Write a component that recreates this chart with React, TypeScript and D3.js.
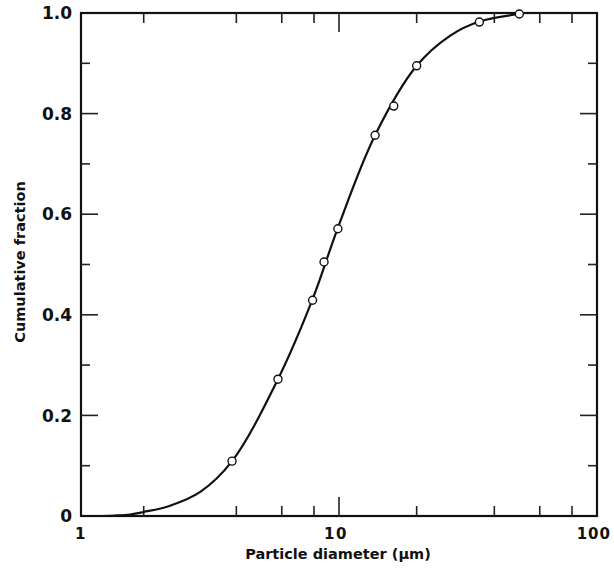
import React from "react";
import * as d3 from "d3";

const pointDiameters = [3.85, 5.8, 7.9, 8.75, 9.9, 13.8, 16.3, 20, 35, 50];
const pointFractions = [0.109, 0.272, 0.429, 0.505, 0.571, 0.757, 0.815, 0.895, 0.982, 0.998];
const curveDiameters = [1.15, 1.35, 1.55, 1.75, 2.2, 2.9, 3.85, 5.8, 7.9, 9.9, 13.8, 20, 27, 35, 50];
const curveFractions = [0, 0.001, 0.003, 0.008, 0.02, 0.048, 0.109, 0.272, 0.431, 0.573, 0.757, 0.895, 0.955, 0.983, 0.998];
const xMajorTicks = [1, 10, 100];
const xMinorTicks = [1.75, 4, 6, 8, 20, 40, 60, 80];
const yMajorTicks = [0, 0.2, 0.4, 0.6, 0.8, 1.0];
const yMinorTicks = [0.1, 0.3, 0.5, 0.7, 0.9];
const yTickLabels = ["0", "0.2", "0.4", "0.6", "0.8", "1.0"];

export default function App() {
  const W = 614, H = 571;
  const L = 81, R = 597, T = 13, B = 516;
  const x = d3.scaleLog().domain([1, 100]).range([L, R]);
  const y = d3.scaleLinear().domain([0, 1]).range([B, T]);
  const curvePts: [number, number][] = curveDiameters.map((d, i) => [d, curveFractions[i]]);
  const line = d3.line<[number, number]>().x(d => x(d[0])).y(d => y(d[1])).curve(d3.curveCatmullRom.alpha(0.5));
  const font = "'DejaVu Sans', Verdana, sans-serif";
  return (
    <svg width={W} height={H} style={{ position: "absolute", left: 0, top: 0, background: "#fff" }}>
      <rect x={0} y={0} width={W} height={H} fill="#fff" />
      {/* frame */}
      <rect x={L} y={T} width={R - L} height={B - T} fill="none" stroke="#111" strokeWidth={2.2} />
      {/* y ticks */}
      {yMajorTicks.slice(1, -1).map(v => (
        <g key={"ym" + v}>
          <line x1={L} x2={L + 17} y1={y(v)} y2={y(v)} stroke="#222" strokeWidth={1.6} />
          <line x1={R - 17} x2={R} y1={y(v)} y2={y(v)} stroke="#222" strokeWidth={1.6} />
        </g>
      ))}
      {yMinorTicks.map(v => (
        <g key={"yn" + v}>
          <line x1={L} x2={L + 9} y1={y(v)} y2={y(v)} stroke="#222" strokeWidth={1.6} />
          <line x1={R - 9} x2={R} y1={y(v)} y2={y(v)} stroke="#222" strokeWidth={1.6} />
        </g>
      ))}
      {/* x ticks */}
      {xMajorTicks.slice(1, -1).map(v => (
        <g key={"xm" + v}>
          <line x1={x(v)} x2={x(v)} y1={B} y2={B - 19} stroke="#222" strokeWidth={1.6} />
          <line x1={x(v)} x2={x(v)} y1={T} y2={T + 19} stroke="#222" strokeWidth={1.6} />
        </g>
      ))}
      {xMinorTicks.map(v => (
        <g key={"xn" + v}>
          <line x1={x(v)} x2={x(v)} y1={B} y2={B - 10} stroke="#222" strokeWidth={1.6} />
          <line x1={x(v)} x2={x(v)} y1={T} y2={T + 10} stroke="#222" strokeWidth={1.6} />
        </g>
      ))}
      {/* y labels */}
      {yMajorTicks.map((v, i) => (
        <text key={"yl" + v} x={72} y={y(v)} dy="0.36em" textAnchor="end" fontFamily={font} fontWeight="bold" fontSize={17} fill="#111">
          {yTickLabels[i]}
        </text>
      ))}
      {/* x labels */}
      {xMajorTicks.map(v => {
        const last = v === 100;
        return (
          <text key={"xl" + v} x={last ? 611 : x(v) + (v === 1 ? 0 : -3)} y={539} textAnchor={last ? "end" : "middle"} fontFamily={font} fontWeight="bold" fontSize={15} fill="#111" letterSpacing={last ? 1 : 1.5}>
            {String(v)}
          </text>
        );
      })}
      <text x={338} y={559} textAnchor="middle" fontFamily={font} fontWeight="bold" fontSize={14.5} fill="#111">
        Particle diameter (μm)
      </text>
      <text transform={`translate(25,${262}) rotate(-90)`} textAnchor="middle" fontFamily={font} fontWeight="bold" fontSize={14.5} fill="#111">
        Cumulative fraction
      </text>
      {/* curve */}
      <path d={line(curvePts) || ""} fill="none" stroke="#111" strokeWidth={2.2} />
      {pointDiameters.map((d, i) => (
        <circle key={"p" + i} cx={x(d)} cy={y(pointFractions[i])} r={4} fill="#fff" stroke="#111" strokeWidth={1.4} />
      ))}
    </svg>
  );
}
